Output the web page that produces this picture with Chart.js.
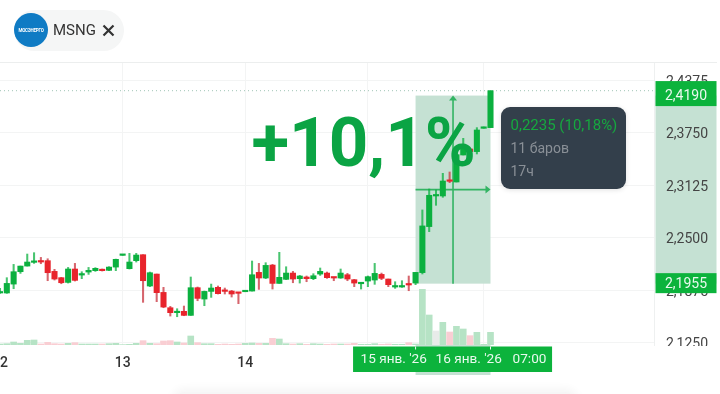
<!DOCTYPE html>
<html>
<head>
<meta charset="utf-8">
<script src="https://cdn.jsdelivr.net/npm/chart.js@4"></script>
<style>
  html, body { margin: 0; padding: 0; background: #fff; }
  body { width: 720px; height: 394px; position: relative; overflow: hidden; font-family: Roboto, sans-serif; }
  canvas { position: absolute; left: 0; top: 0; filter: blur(0.35px); }
  .chip { position: absolute; left: 14px; top: 10px; width: 110px; height: 41px; border-radius: 21px; background: #f5f6f6; }
  .logo { position: absolute; left: 14px; top: 13px; width: 34px; height: 34px; border-radius: 50%; background: #0f7bc4; color: #fff; font-size: 4.5px; font-weight: 700; line-height: 36px; text-align: center; letter-spacing: -0.2px; }
  .ticker { position: absolute; left: 53px; top: 20px; font-size: 15px; line-height: 20px; color: #333; }
  .close { position: absolute; left: 102px; top: 24px; }
  .gain { position: absolute; left: 251.5px; top: 109px; font-size: 69px; line-height: 68px; font-weight: 700; color: #0ba444; white-space: nowrap; }
  .tip { position: absolute; left: 501px; top: 107px; width: 125px; height: 82px; border-radius: 9px; background: #333f4b; box-shadow: 0 1px 5px rgba(0,0,0,.12); font-size: 14px; line-height: 23px; color: #8a9097; }
  .tip div { position: absolute; left: 9.5px; white-space: nowrap; }
  .sheet { position: absolute; left: 175px; top: 392px; width: 400px; height: 20px; border-radius: 10px; background: #f6f6f6; box-shadow: 0 0 8px 4px #f6f6f6; }
</style>
</head>
<body>
<canvas id="chart" width="720" height="394"></canvas>
<div class="chip"></div>
<div class="logo">МОСЭНЕРГО</div>
<div class="ticker">MSNG</div>
<svg class="close" width="13" height="13" viewBox="0 0 13 13"><path d="M1.5 1.5 L11.5 11.5 M11.5 1.5 L1.5 11.5" stroke="#333" stroke-width="2.2"/></svg>
<div class="gain">+10,1%</div>
<div class="tip">
  <div style="top:7px;color:#16a83f;font-size:15px">0,2235 (10,18%)</div>
  <div style="top:29.5px">11 баров</div>
  <div style="top:52.5px">17ч</div>
</div>
<div class="sheet"></div>

<script>
// hourly candles
const opens = [2.1844,2.1844,2.1950,2.2097,2.2164,2.2208,2.2228,2.2228,2.2101,2.2026,2.1970,2.2129,2.2057,2.2093,2.2109,2.2117,2.2113,2.2152,2.2291,2.2133,2.2228,2.2299,2.1927,2.2069,2.1851,2.1669,2.1610,2.1626,2.1578,2.1907,2.1772,2.1863,2.1911,2.1875,2.1867,2.1848,2.1859,2.1867,2.2089,2.2022,2.2176,2.1958,2.2006,2.2081,2.2014,2.2034,2.2014,2.2069,2.2081,2.2030,2.2022,2.2061,2.2002,2.1954,2.1986,2.1998,2.2065,2.2010,2.1915,2.1915,2.1950,2.1962,2.2086,2.2633,2.2997,2.2997,2.3187,2.3163,2.3484,2.3555,2.3524,2.3801,2.3809];
const highs = [2.1899,2.2026,2.2184,2.2164,2.2307,2.2323,2.2267,2.2251,2.2125,2.2030,2.2148,2.2196,2.2097,2.2148,2.2145,2.2129,2.2156,2.2247,2.2303,2.2315,2.2315,2.2299,2.2093,2.2069,2.1911,2.1685,2.1657,2.1689,2.2034,2.1915,2.1867,2.1950,2.1927,2.1903,2.1875,2.1851,2.1875,2.2224,2.2196,2.2204,2.2184,2.2327,2.2156,2.2101,2.2053,2.2046,2.2073,2.2141,2.2093,2.2030,2.2129,2.2077,2.2006,2.1966,2.2046,2.2196,2.2081,2.2010,2.1978,2.1990,2.2046,2.2089,2.2831,2.3080,2.3068,2.3266,2.3282,2.3543,2.3682,2.3567,2.3809,2.3817,2.4248];
const lows = [2.1840,2.1840,2.1895,2.2077,2.2164,2.2196,2.2192,2.1990,2.1998,2.1954,2.1962,2.1986,2.2014,2.2065,2.2101,2.2105,2.2109,2.2109,2.2291,2.2129,2.2212,2.1733,2.1919,2.1741,2.1669,2.1570,2.1562,2.1574,2.1578,2.1752,2.1693,2.1792,2.1832,2.1832,2.1796,2.1717,2.1859,2.1867,2.1887,2.2014,2.1891,2.1958,2.2002,2.1966,2.1962,2.1978,2.2002,2.2053,2.2018,2.1990,2.2018,2.1990,2.1919,2.1891,2.1919,2.1947,2.2002,2.1919,2.1899,2.1911,2.1871,2.1943,2.2070,2.2573,2.2886,2.2981,2.3155,2.3163,2.3484,2.3425,2.3496,2.3801,2.3809];
const closes = [2.1859,2.1958,2.2097,2.2164,2.2212,2.2224,2.2212,2.2085,2.2010,2.1966,2.2129,2.1994,2.2069,2.2113,2.2137,2.2109,2.2152,2.2244,2.2303,2.2212,2.2295,2.1990,2.2085,2.1848,2.1677,2.1610,2.1622,2.1578,2.1907,2.1780,2.1863,2.1903,2.1836,2.1863,2.1832,2.1840,2.1875,2.2061,2.2022,2.2172,2.1958,2.2030,2.2081,2.2010,2.2046,2.2014,2.2049,2.2101,2.2026,2.2022,2.2081,2.2010,2.1962,2.1966,2.2038,2.2077,2.2018,2.1943,2.1927,2.1927,2.1939,2.2089,2.2641,2.3005,2.2997,2.3175,2.3171,2.3488,2.3567,2.3524,2.3781,2.3817,2.4248];
const volumes = [3,4,9,5,14,15,3,8,4,3,5,7,3,3,3,3,4,5,1,2,5,13,5,4,12,13,9,6,27,7,4,4,2,3,2,3,5,6,5,5,20,18,4,3,4,2,4,3,2,3,3,3,5,2,2,4,2,3,2,2,7,3,167,90,42,68,39,56,48,28,38,2,38];

const barCount = 97;
const dayIndexes = [0, 18, 36, 54, 71];
const dayLabels = ['12', '13', '14', '', ''];
const priceTicks = [2.125, 2.1875, 2.25, 2.3125, 2.375, 2.4375];

// measured range
const rangeFrom = 61;
const rangeTo = 72;
const rangeLow = 2.1955;
const rangeHigh = 2.4190;
const rangeLabels = ["15 янв. '26", "16 янв. '26", '07:00'];

const GREEN = '#0bb03f';
const RED = '#e8242c';
const BAND = '#c5e1d3';
const TAG = '#0cb33c';
const ARROW = '#33b463';
const GRID = '#f3f4f4';

const isUp = closes.map((c, i) => c >= opens[i]);
const price = (v) => v.toFixed(4).replace('.', ',');

const rangePlugin = {
  id: 'range',
  beforeDraw(chart) {
    // band on the price side sits under the tick labels
    const { ctx, chartArea, scales, width } = chart;
    const yTop = scales.y.getPixelForValue(rangeHigh);
    const yBot = scales.y.getPixelForValue(rangeLow);
    const axisLeft = chartArea.right + 1.5;
    ctx.save();
    ctx.fillStyle = BAND;
    ctx.fillRect(axisLeft, yTop, width - 3.5 - axisLeft, yBot - yTop);
    ctx.restore();
  },
  beforeDatasetsDraw(chart) {
    const { ctx, chartArea, scales } = chart;
    const x0 = scales.x.getPixelForValue(rangeFrom);
    const x1 = scales.x.getPixelForValue(rangeTo);
    const yTop = scales.y.getPixelForValue(rangeHigh);
    const yBot = scales.y.getPixelForValue(rangeLow);
    const xMid = (x0 + x1) / 2;
    const yMid = (yTop + yBot) / 2;

    ctx.save();
    // last price dotted line
    const yLast = scales.y.getPixelForValue(closes[closes.length - 1]);
    ctx.strokeStyle = '#9fc4b6';
    ctx.lineWidth = 1;
    ctx.setLineDash([1, 3]);
    ctx.beginPath();
    ctx.moveTo(chartArea.left, yLast);
    ctx.lineTo(chartArea.right, yLast);
    ctx.stroke();
    ctx.setLineDash([]);

    ctx.fillStyle = BAND;
    ctx.fillRect(x0, yTop, x1 - x0, yBot - yTop);

    // crosshair arrows
    ctx.strokeStyle = ARROW;
    ctx.fillStyle = ARROW;
    ctx.lineWidth = 1.6;
    ctx.beginPath();
    ctx.moveTo(xMid, yBot);
    ctx.lineTo(xMid, yTop + 4);
    ctx.moveTo(x0, yMid);
    ctx.lineTo(x1 - 4, yMid);
    ctx.stroke();
    ctx.beginPath();
    ctx.moveTo(xMid, yTop);
    ctx.lineTo(xMid - 4, yTop + 5);
    ctx.lineTo(xMid + 4, yTop + 5);
    ctx.closePath();
    ctx.moveTo(x1, yMid);
    ctx.lineTo(x1 - 5, yMid - 4);
    ctx.lineTo(x1 - 5, yMid + 4);
    ctx.closePath();
    ctx.fill();
    ctx.restore();
  },
  afterDraw(chart) {
    const { ctx, chartArea, scales, width } = chart;
    const x0 = scales.x.getPixelForValue(rangeFrom);
    const x1 = scales.x.getPixelForValue(rangeTo);
    const yTop = scales.y.getPixelForValue(rangeHigh);
    const yBot = scales.y.getPixelForValue(rangeLow);
    const axisLeft = chartArea.right + 1.5;
    const axisW = width - 3.5 - axisLeft;

    ctx.save();
    // top border and what cuts off the last tick
    ctx.fillStyle = '#eceeee';
    ctx.fillRect(0, chartArea.top, width - 3, 1);
    ctx.fillStyle = '#fff';
    ctx.fillRect(chartArea.right, chartArea.bottom + 1, width - chartArea.right, 40);

    // price side
    ctx.fillStyle = TAG;
    ctx.fillRect(axisLeft, yTop - 14.5, axisW, 25);
    ctx.fillRect(axisLeft, yBot - 10.5, axisW, 20);
    ctx.font = '14px Roboto';
    ctx.fillStyle = '#e9f9ee';
    ctx.textAlign = 'center';
    ctx.textBaseline = 'middle';
    ctx.fillText(price(rangeHigh), axisLeft + axisW / 2, yTop + 1);
    ctx.fillText(price(rangeLow), axisLeft + axisW / 2, yBot + 1);

    // time side
    const b = chartArea.bottom;
    ctx.fillStyle = BAND;
    ctx.fillRect(x0, b, x1 - x0, 30);
    ctx.fillStyle = TAG;
    ctx.fillRect(x0 - 62.5, b + 1.5, 199, 25.5);
    ctx.fillStyle = '#e9f9ee';
    ctx.fillRect(x0 - 0.5, b + 1.5, 1, 3);
    ctx.fillRect(x1 - 0.5, b + 1.5, 1, 3);
    ctx.font = '13.6px Roboto';
    ctx.textAlign = 'left';
    ctx.fillText(rangeLabels[0], x0 - 55, b + 15);
    ctx.fillText(rangeLabels[1], x0 + 20, b + 15);
    ctx.fillText(rangeLabels[2], x0 + 97, b + 15);
    ctx.restore();
  }
};

new Chart(document.getElementById('chart').getContext('2d'), {
  type: 'bar',
  data: {
    labels: Array.from({ length: barCount }, (_, i) => String(i)),
    datasets: [
      {
        label: 'body',
        data: opens.map((o, i) => [o, closes[i]]),
        backgroundColor: isUp.map(up => up ? GREEN : RED),
        barThickness: 5.4,
        minBarLength: 1.5,
        yAxisID: 'y',
        order: 1
      },
      {
        label: 'wick',
        data: lows.map((l, i) => [l, highs[i]]),
        backgroundColor: isUp.map(up => up ? 'rgba(11,176,63,.75)' : 'rgba(200,50,60,.75)'),
        barThickness: 1.4,
        yAxisID: 'y',
        order: 2
      },
      {
        label: 'volume',
        data: volumes,
        backgroundColor: volumes.map((v, i) => opens[i] === closes[i] ? '#e8ebe9' : (isUp[i] ? '#b6e3c5' : '#f9ced3')),
        barThickness: 6,
        yAxisID: 'vol',
        order: 3
      }
    ]
  },
  options: {
    responsive: false,
    animation: false,
    events: [],
    layout: { padding: { top: 62, left: 0, right: 0, bottom: 0 } },
    datasets: { bar: { grouped: false, borderWidth: 0 } },
    plugins: { legend: { display: false }, tooltip: { enabled: false } },
    scales: {
      x: {
        type: 'category',
        offset: false,
        grid: { color: (c) => c.index === 0 ? 'transparent' : GRID, drawTicks: false, offset: false },
        border: { display: false },
        afterBuildTicks(s) { s.ticks = dayIndexes.map(v => ({ value: v })); },
        afterFit(s) { s.height = 49; s.paddingLeft = 0; s.paddingRight = 0; },
        ticks: {
          autoSkip: false,
          maxRotation: 0,
          padding: 10,
          color: '#333',
          font: { family: 'Roboto', size: 14, weight: '500' },
          callback: (v) => dayLabels[dayIndexes.indexOf(v)]
        }
      },
      y: {
        position: 'right',
        min: 2.1226,
        max: 2.4589,
        grid: { color: GRID, drawTicks: false },
        border: { color: '#eef0f0' },
        afterBuildTicks(s) { s.ticks = priceTicks.map(v => ({ value: v })); },
        afterFit(s) { s.width = 66; s.paddingTop = 0; s.paddingBottom = 0; },
        ticks: {
          align: 'center',
          crossAlign: 'near',
          padding: 12,
          labelOffset: 2,
          color: '#444',
          font: { family: 'Roboto', size: 14 },
          callback: (v) => price(v)
        }
      },
      vol: { display: false, min: 0, max: 849 }
    }
  },
  plugins: [rangePlugin]
});
</script>
</body>
</html>
